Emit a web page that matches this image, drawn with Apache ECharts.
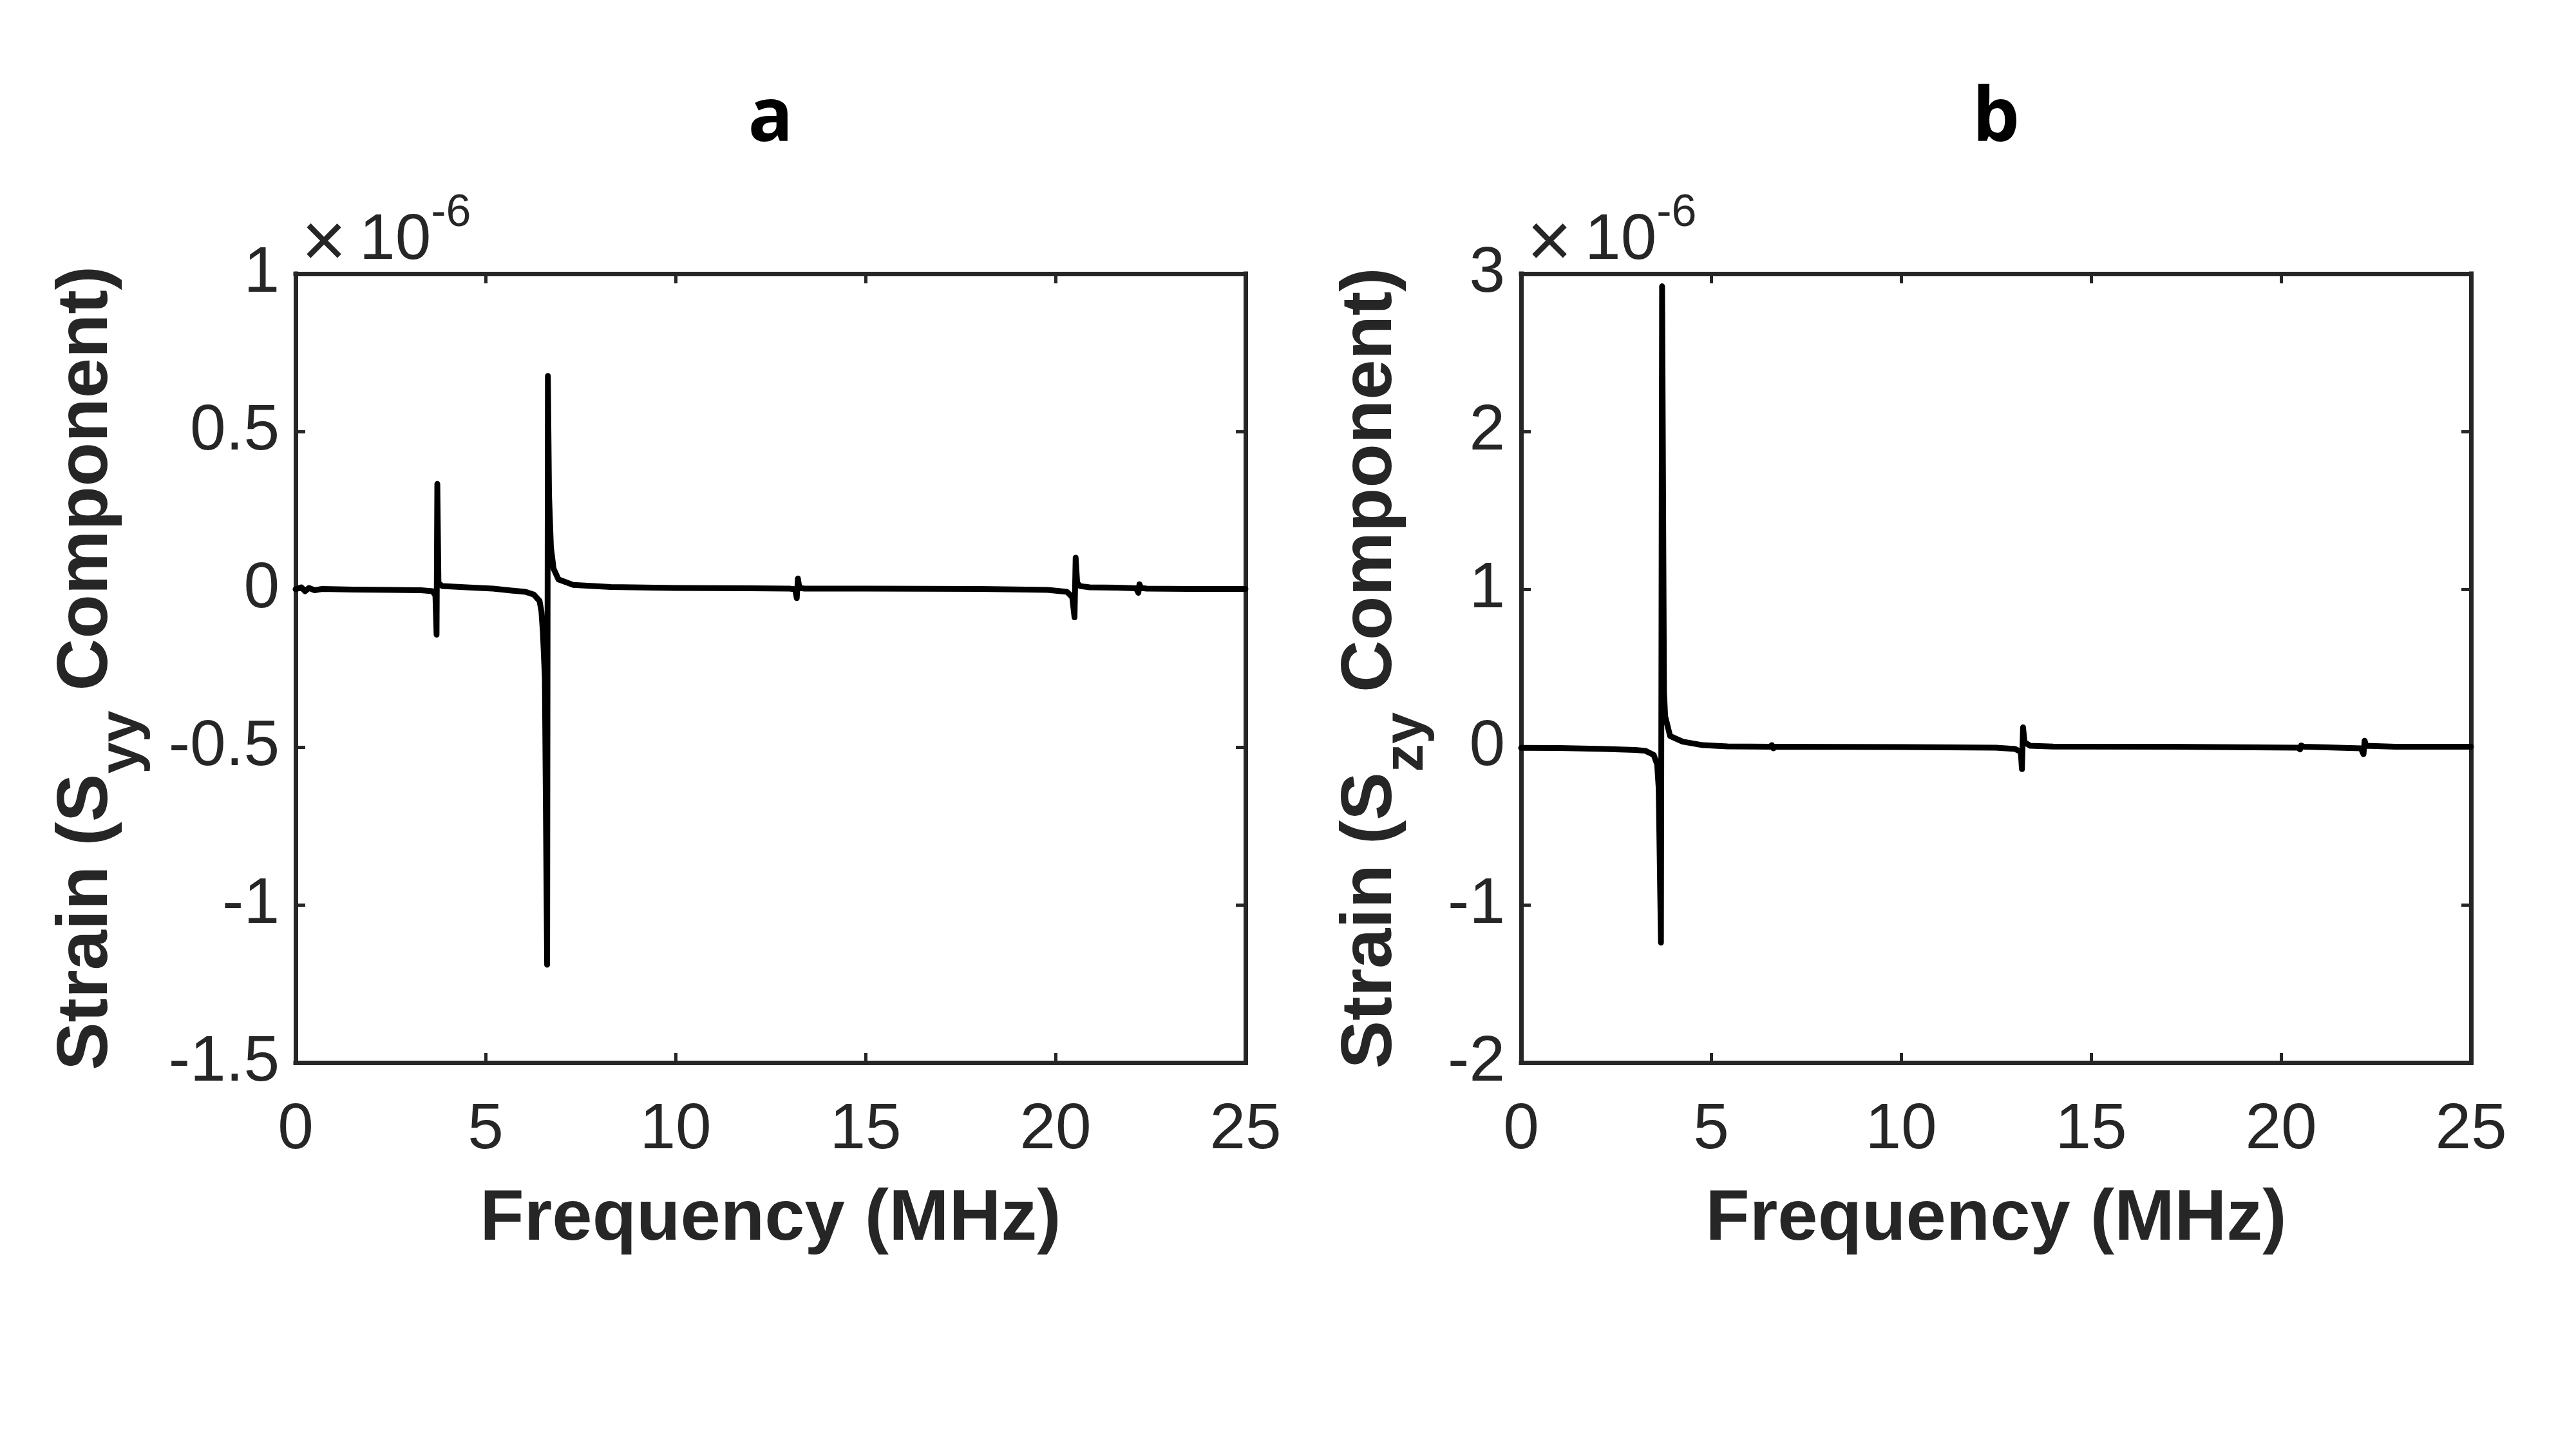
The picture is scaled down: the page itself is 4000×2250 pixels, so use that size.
<!DOCTYPE html>
<html><head><meta charset="utf-8">
<script src="https://cdn.jsdelivr.net/npm/echarts@6/dist/echarts.min.js"></script>
<style>html,body{margin:0;padding:0;background:#fff;}#c{width:4000px;height:2250px;}</style>
</head><body><div id="c"></div>
<script>
// Panel a: Syy strain component (x1e-6) vs frequency (MHz)
const freqA = [0, 0.15, 0.25, 0.35, 0.5, 0.7, 1.5, 2.5, 3.3, 3.6, 3.68, 3.71, 3.73, 3.76, 3.86, 4.5, 5.2, 5.68, 6.05, 6.27, 6.42, 6.47, 6.51, 6.56, 6.62, 6.64, 6.67, 6.72, 6.79, 6.92, 7.3, 8.3, 10, 12, 13.0, 13.15, 13.19, 13.22, 13.26, 13.4, 15, 18, 19.8, 20.3, 20.44, 20.5, 20.53, 20.57, 20.65, 20.9, 21.6, 22.12, 22.18, 22.21, 22.25, 22.4, 23.5, 25];
const strainA = [0, 0.006, -0.006, 0.004, -0.003, 0.001, -0.001, -0.002, -0.003, -0.006, -0.02, -0.144, 0.334, 0.02, 0.01, 0.006, 0.002, -0.004, -0.008, -0.017, -0.037, -0.07, -0.14, -0.28, -1.19, 0.676, 0.3, 0.133, 0.065, 0.031, 0.014, 0.007, 0.004, 0.003, 0.002, 0.0, -0.028, 0.034, 0.004, 0.002, 0.002, 0.001, -0.002, -0.008, -0.025, -0.089, 0.1, 0.02, 0.01, 0.006, 0.005, 0.003, -0.011, 0.016, 0.004, 0.002, 0.001, 0.001];
// Panel b: Szy strain component (x1e-6) vs frequency (MHz)
const freqB = [0, 1, 2.2, 3.0, 3.27, 3.49, 3.58, 3.62, 3.68, 3.71, 3.76, 3.79, 3.92, 4.25, 4.78, 5.43, 6.55, 6.6, 6.64, 6.7, 10, 12.5, 13.0, 13.15, 13.18, 13.21, 13.25, 13.4, 14, 17, 20.45, 20.5, 20.53, 20.6, 22.1, 22.17, 22.2, 22.24, 23, 25];
const strainB = [-0.005, -0.006, -0.012, -0.018, -0.024, -0.05, -0.11, -0.26, -1.24, 2.92, 0.35, 0.197, 0.07, 0.034, 0.012, 0.004, 0.002, 0.012, -0.008, 0.002, 0.0, -0.004, -0.012, -0.03, -0.14, 0.125, 0.03, 0.008, 0.003, 0.002, -0.004, -0.015, 0.01, 0.002, -0.008, -0.045, 0.04, 0.008, 0.002, 0.002];

const freqRange = [0, 25, 5];
const yRangeA = [-1.5, 1, 0.5];
const yRangeB = [-2, 3, 1];
const panelTitles = ['a', 'b'];
const ySubscripts = ['yy', 'zy'];
const xName = 'Frequency (MHz)';
const expTimes = '×';
const expBase = '10';
const expPow = '-6';

const AX = '#262626';
const FONT = '"Liberation Sans", Arial, Helvetica, sans-serif';
const grids = [
  {left: 459, top: 425, width: 1475, height: 1225},
  {left: 2362, top: 425, width: 1475, height: 1225}
];

function xAx(g, pos, main) {
  return {
    type: 'value', gridIndex: g, position: pos,
    min: freqRange[0], max: freqRange[1], interval: freqRange[2],
    axisLine: {show: true, onZero: false, lineStyle: {color: AX, width: 7, cap: 'square'}},
    axisTick: {show: true, inside: true, length: 15, lineStyle: {color: AX, width: 5}},
    axisLabel: {show: main, margin: 55, fontSize: 100, color: AX, fontFamily: FONT},
    splitLine: {show: false},
    name: main ? xName : '', nameLocation: 'middle', nameGap: 188,
    nameTextStyle: {fontSize: 112, fontWeight: 'bold', color: AX, fontFamily: FONT}
  };
}
function yAx(g, pos, main, r) {
  return {
    type: 'value', gridIndex: g, position: pos,
    min: r[0], max: r[1], interval: r[2],
    axisLine: {show: true, onZero: false, lineStyle: {color: AX, width: 7, cap: 'square'}},
    axisTick: {show: true, inside: true, length: 15, lineStyle: {color: AX, width: 5}},
    axisLabel: {show: main, margin: 25, fontSize: 100, color: AX, fontFamily: FONT},
    splitLine: {show: false}
  };
}
function pairs(xs, ys) { return xs.map((x, i) => [x, ys[i]]); }

const lineStyle = {color: '#000', width: 9, join: 'round', cap: 'round'};
const graphics = [];
const mid = g => g.left + g.width / 2;
const yMid = g => g.top + g.height / 2;
const yLabelX = [135, 2129];
grids.forEach((g, i) => {
  graphics.push({type: 'text', x: mid(g), y: 186, silent: true,
    style: {text: panelTitles[i], fontSize: 116, fontWeight: 'bold', fontFamily: '"Open Sans", sans-serif',
      fill: '#000', align: 'center', verticalAlign: 'middle'}});
  graphics.push({type: 'text', x: g.left + 9, y: 374, silent: true,
    style: {text: '{x|' + expTimes + '}{m|' + expBase + '}{s|' + expPow + '}', align: 'left', verticalAlign: 'middle',
      rich: {
        x: {fontSize: 120, fontFamily: FONT, fill: AX, lineHeight: 130, padding: [14, 20, 0, 0]},
        m: {fontSize: 100, fontFamily: FONT, fill: AX, lineHeight: 130},
        s: {fontSize: 70, fontFamily: FONT, fill: AX, lineHeight: 130, padding: [0, 0, 85, 0]}
      }}});
  graphics.push({type: 'text', x: yLabelX[i], y: yMid(g), rotation: Math.PI / 2, silent: true,
    style: {text: '{m|Strain (S}{s|' + ySubscripts[i] + '}{m| Component)}', align: 'center', verticalAlign: 'middle',
      rich: {
        m: {fontSize: 112, fontWeight: 'bold', fontFamily: FONT, fill: AX, lineHeight: 140},
        s: {fontSize: 88, fontWeight: 'bold', fontFamily: FONT, fill: AX, lineHeight: 140, padding: [112, 0, 0, 0]}
      }}});
});

const chart = echarts.init(document.getElementById('c'), null, {renderer: 'canvas'});
chart.setOption({
  animation: false,
  backgroundColor: '#fff',
  grid: grids.map(g => Object.assign({containLabel: false}, g)),
  xAxis: [xAx(0, 'bottom', true), xAx(0, 'top', false), xAx(1, 'bottom', true), xAx(1, 'top', false)],
  yAxis: [yAx(0, 'left', true, yRangeA), yAx(0, 'right', false, yRangeA), yAx(1, 'left', true, yRangeB), yAx(1, 'right', false, yRangeB)],
  series: [
    {type: 'line', xAxisIndex: 0, yAxisIndex: 0, data: pairs(freqA, strainA), showSymbol: false, symbol: 'none', lineStyle: lineStyle, z: 1},
    {type: 'line', xAxisIndex: 2, yAxisIndex: 2, data: pairs(freqB, strainB), showSymbol: false, symbol: 'none', lineStyle: lineStyle, z: 1}
  ],
  graphic: graphics
});
</script></body></html>
